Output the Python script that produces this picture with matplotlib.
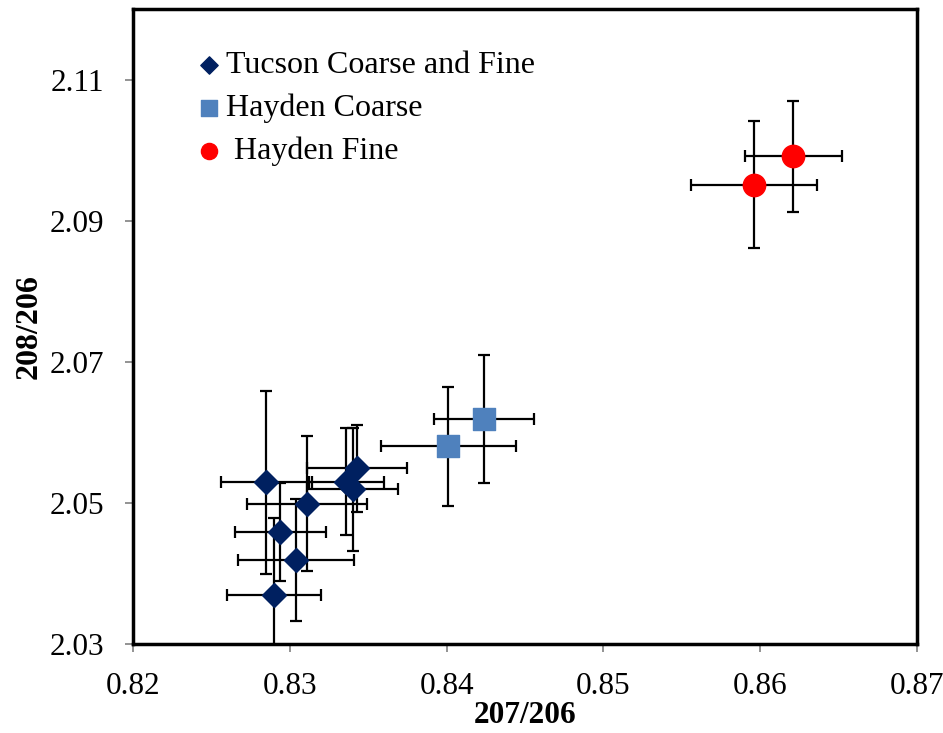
import numpy as np
import matplotlib.pyplot as plt

plt.rcParams['font.family'] = ['Liberation Serif', 'DejaVu Serif']

# Tucson coarse and fine
tuc_x = [0.8285, 0.8343, 0.8336, 0.8340, 0.8311, 0.8294, 0.8304, 0.8290]
tuc_y = [2.0529, 2.0549, 2.0530, 2.0519, 2.0499, 2.0459, 2.0419, 2.0370]
tuc_xerr = [0.0029, 0.0032, 0.0024, 0.0029, 0.0038, 0.0029, 0.0037, 0.0030]
tuc_yerr = [0.0130, 0.0062, 0.0076, 0.0087, 0.0096, 0.0069, 0.0086, 0.0109]

# Hayden coarse
hc_x = [0.8401, 0.8424]
hc_y = [2.0580, 2.0619]
hc_xerr = [0.0043, 0.0032]
hc_yerr = [0.0084, 0.0091]

# Hayden fine
hf_x = [0.8596, 0.8621]
hf_y = [2.0951, 2.0991]
hf_xerr = [0.0040, 0.0031]
hf_yerr = [0.0090, 0.0078]

fig = plt.figure(figsize=(9.43, 7.33), dpi=100)
ax = fig.add_axes([0.141, 0.1214, 0.8315, 0.8663])

for xs, ys, xe, ye in [(tuc_x, tuc_y, tuc_xerr, tuc_yerr),
                       (hc_x, hc_y, hc_xerr, hc_yerr),
                       (hf_x, hf_y, hf_xerr, hf_yerr)]:
    ax.errorbar(xs, ys, xerr=xe, yerr=ye, fmt='none', ecolor='black',
                elinewidth=1.6, capsize=4.5, capthick=1.6, zorder=2)

ax.scatter(tuc_x, tuc_y, marker='D', s=150, color='#002060', zorder=3,
           label='Tucson Coarse and Fine')
ax.scatter(hc_x, hc_y, marker='s', s=240, color='#4F81BD', zorder=3,
           label='Hayden Coarse')
ax.scatter(hf_x, hf_y, marker='o', s=260, color='#FF0000', zorder=3,
           label=' Hayden Fine')

ax.set_xlim(0.82, 0.87)
ax.set_ylim(2.03, 2.12)
ax.set_xticks([0.82, 0.83, 0.84, 0.85, 0.86, 0.87])
ax.set_yticks([2.03, 2.05, 2.07, 2.09, 2.11])
ax.set_xticklabels(['0.82', '0.83', '0.84', '0.85', '0.86', '0.87'])
ax.set_yticklabels(['2.03', '2.05', '2.07', '2.09', '2.11'])
ax.tick_params(axis='both', direction='out', length=6, width=1.2,
               color='#808080', labelsize=22.5)
ax.tick_params(axis='y', pad=15)
ax.tick_params(axis='x', pad=14)

for sp in ax.spines.values():
    sp.set_linewidth(2.5)
    sp.set_color('black')

ax.set_xlabel('207/206', fontsize=22.5, weight='bold', labelpad=0)
ax.set_ylabel('208/206', fontsize=23, weight='bold', labelpad=4)

leg = ax.legend(loc='upper left', bbox_to_anchor=(0.060, 0.954), frameon=False,
                fontsize=23, handlelength=1.0, handletextpad=0.05,
                labelspacing=0.42, markerscale=0.72, borderaxespad=0)

fig.savefig('out.png', dpi=100)
